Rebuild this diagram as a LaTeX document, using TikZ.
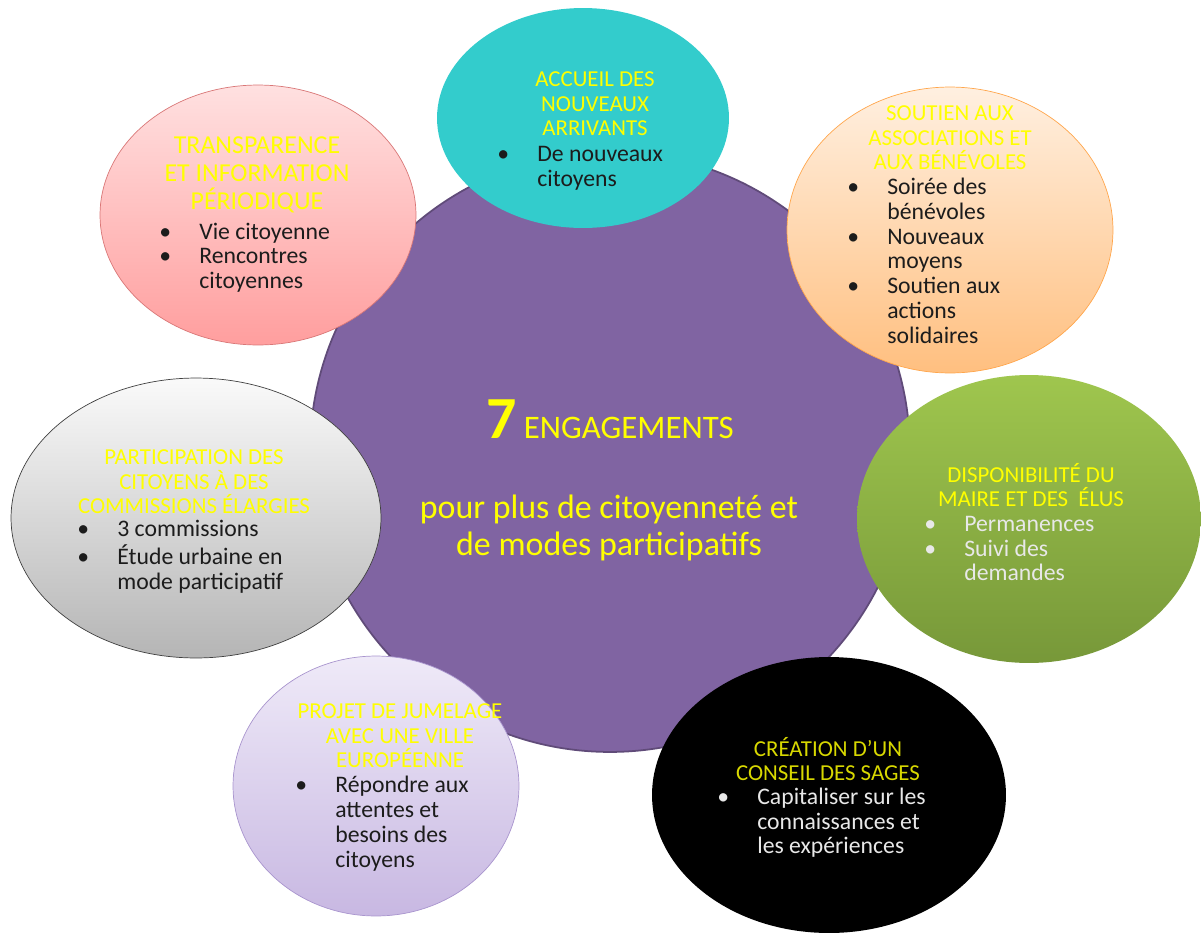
\documentclass[tikz,border=0pt]{standalone}
\usepackage{fontspec}
\setmainfont{Carlito}
\usepackage{xcolor}
\usepackage{tikz}
\usetikzlibrary{shapes.geometric, positioning}

\definecolor{corepurple}{HTML}{8064A2}
\definecolor{ttlyellow}{HTML}{FFFF00}
\definecolor{ttldim}{HTML}{D8D800}
\definecolor{teal}{HTML}{33CCCC}
\definecolor{greentop}{HTML}{9FC64E}
\definecolor{greenbot}{HTML}{779839}
\definecolor{lavtop}{HTML}{EFEAF8}
\definecolor{lavbot}{HTML}{C8B8E2}
\definecolor{lavedge}{HTML}{A995CE}
\definecolor{bodydark}{HTML}{1C1C1C}
\definecolor{bodylight}{HTML}{E8E8E8}

\newcommand{\bulletrows}[1]{\begin{tabular}{@{}p{0.8cm}@{}l@{}}#1\end{tabular}}

\begin{document}
\begin{tikzpicture}[
    x=0.02cm, y=-0.02cm,
    bubble/.style={ellipse, inner sep=0pt},
    heading/.style={align=center, inner sep=0pt, text=ttlyellow, font=\fontsize{13}{14}\selectfont},
    items/.style={anchor=west, inner sep=0pt, text=bodydark, font=\fontsize{13.5}{14.2}\selectfont}
]
\useasboundingbox (0,0) rectangle (1201,934);

% Centre
\node[circle, inner sep=0pt, minimum size=12cm, fill=corepurple, draw=corepurple!75!black, line width=1pt] (core) at (610,452) {};

% Bubbles
\node[bubble, fill=teal, minimum width=5.84cm, minimum height=4.4cm] (accueil) at (583,118) {};
\node[bubble, top color=red!12, bottom color=red!38, draw=red!45!white!85!black, minimum width=6.32cm, minimum height=5.2cm] (transp) at (258,215) {};
\node[bubble, top color=orange!12, bottom color=orange!50, draw=orange!70, minimum width=6.52cm, minimum height=5.72cm] (soutien) at (950,230) {};
\node[bubble, top color=gray!4, bottom color=gray!58, draw=black!75, minimum width=7.4cm, minimum height=5.6cm] (particip) at (196,518) {};
\node[bubble, top color=greentop, bottom color=greenbot, minimum width=6.88cm, minimum height=5.76cm] (dispo) at (1029,519) {};
\node[bubble, top color=lavtop, bottom color=lavbot, draw=lavedge, minimum width=5.72cm, minimum height=5.2cm] (jumelage) at (376,786) {};
\node[bubble, fill=black, minimum width=7.08cm, minimum height=5.52cm] (sages) at (829,795) {};

% Centre text
\node[anchor=base, text=ttlyellow, font=\fontsize{18.7}{20}\selectfont] (seven) at (610,438) {{\fontsize{34}{36}\selectfont\bfseries 7} ENGAGEMENTS};
\node[align=center, inner sep=0pt, text=ttlyellow, font=\fontsize{19.3}{21}\selectfont] (motto) at (609,528) {pour plus de citoyenneté et\\de modes participatifs};

% Headings
\node[heading] (accueilT) at (595,104) {ACCUEIL DES\\NOUVEAUX\\ARRIVANTS};
\node[heading, font=\fontsize{14.7}{15.9}\selectfont] (transpT) at (257,175) {TRANSPARENCE\\ET INFORMATION\\PÉRIODIQUE};
\node[heading] (soutienT) at (950,138) {SOUTIEN AUX\\ASSOCIATIONS ET\\AUX BÉNÉVOLES};
\node[heading] (participT) at (194,482) {PARTICIPATION DES\\CITOYENS À DES\\COMMISSIONS ÉLARGIES};
\node[heading] (dispoT) at (1031,485) {DISPONIBILITÉ DU\\MAIRE ET DES\ \ ÉLUS};
\node[heading] (jumelageT) at (400,736) {PROJET DE JUMELAGE\\AVEC UNE VILLE\\EUROPÉENNE};
\node[heading, text=ttldim] (sagesT) at (828,759) {CRÉATION D’UN\\CONSEIL DES SAGES};

% Items
\node[items] (accueilL) at (497,169) {\bulletrows{\textbullet & De nouveaux\\ & citoyens}};
\node[items] (transpL) at (159,259) {\bulletrows{\textbullet & Vie citoyenne\\ \textbullet & Rencontres\\ & citoyennes}};
\node[items] (soutienL) at (847,264) {\bulletrows{\textbullet & Soirée des\\ & bénévoles\\ \textbullet & Nouveaux\\ & moyens\\ \textbullet & Soutien aux\\ & actions\\ & solidaires}};
\node[items] (participL) at (77,558) {\bulletrows{\textbullet & 3 commissions\\ \textbullet & Étude urbaine en\\ & mode participatif}};
\node[items, text=bodylight] (dispoL) at (924,551) {\bulletrows{\textbullet & Permanences\\ \textbullet & Suivi des\\ & demandes}};
\node[items] (jumelageL) at (295,825) {\bulletrows{\textbullet & Répondre aux\\ & attentes et\\ & besoins des\\ & citoyens}};
\node[items, text=bodylight] (sagesL) at (717,824) {\bulletrows{\textbullet & Capitaliser sur les\\ & connaissances et\\ & les expériences}};

\end{tikzpicture}
\end{document}
